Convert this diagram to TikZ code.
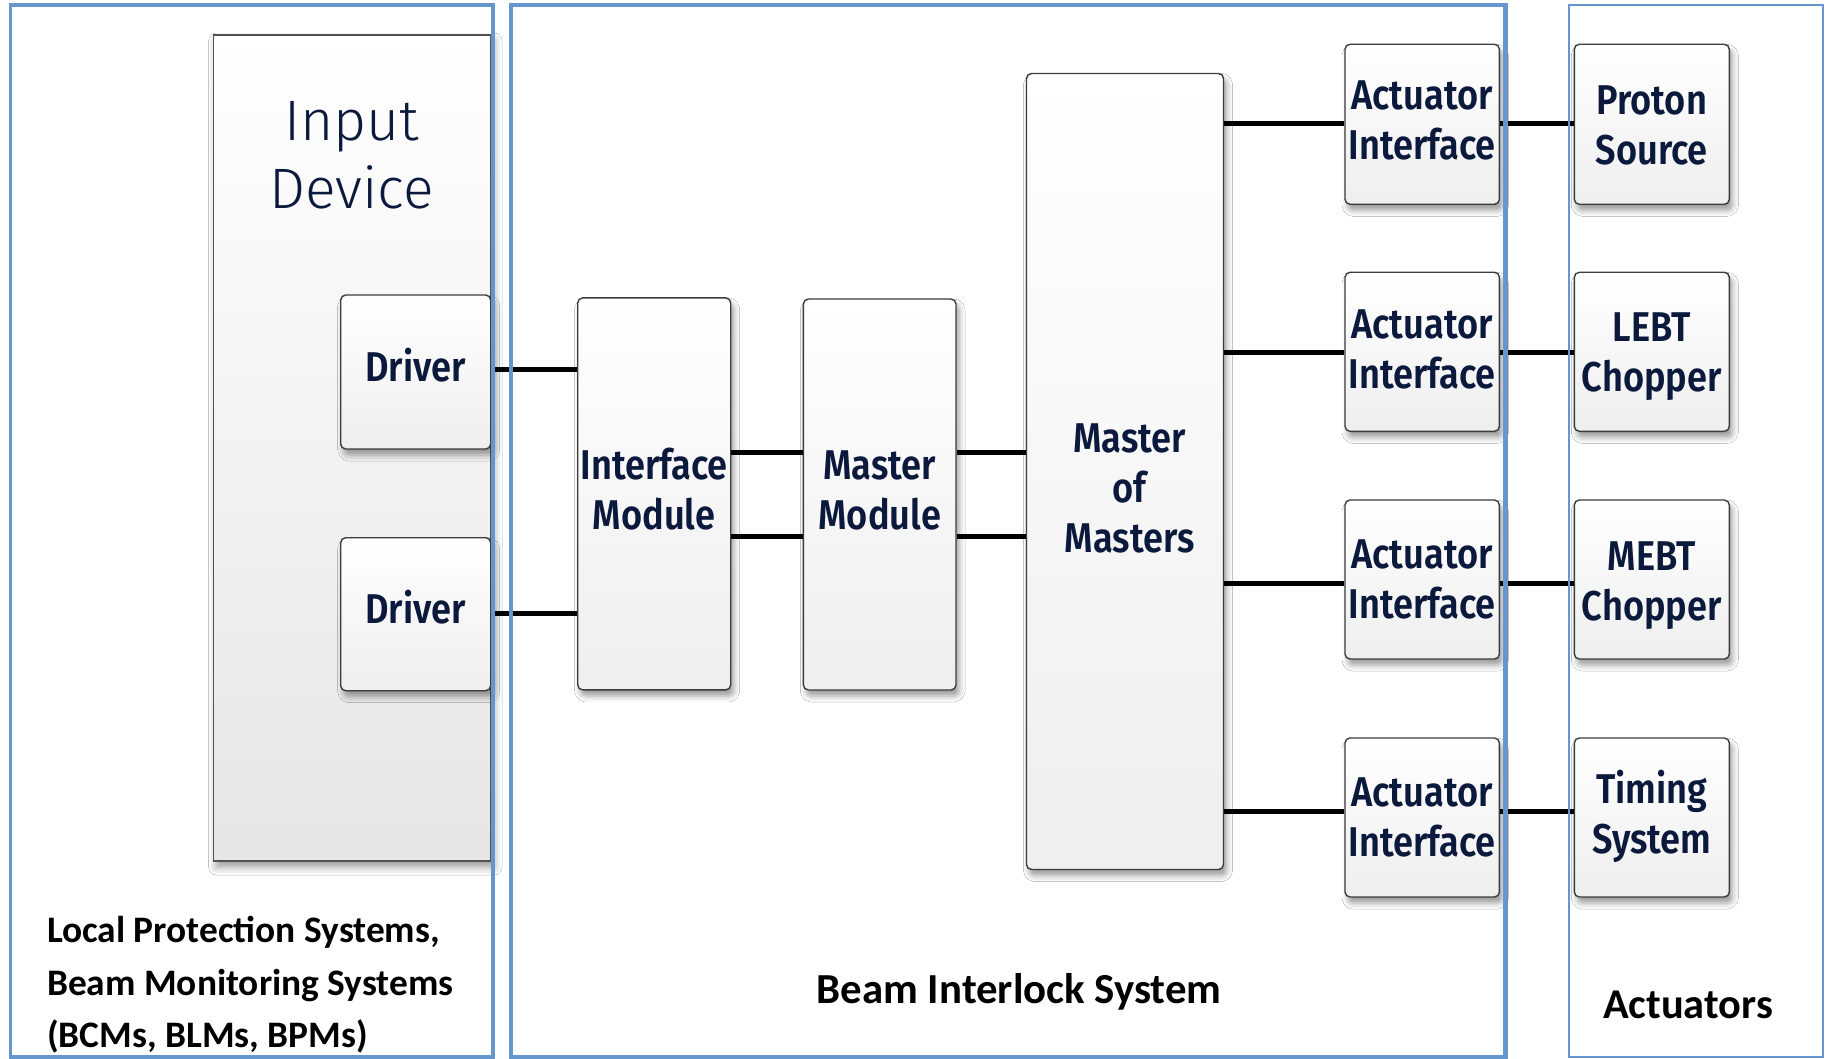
\documentclass[tikz,border=0pt]{standalone}
\usepackage{fontspec}
\usetikzlibrary{shadows.blur}

\newfontfamily\boxfont{Fira Sans SemiBold}[FakeStretch=0.87]
\newfontfamily\thinfont{Fira Sans Light}
\newfontfamily\lblfont{Carlito}[BoldFont={Carlito Bold}]

\definecolor{framec}{RGB}{102,150,206}
\definecolor{navy}{RGB}{10,25,60}
\definecolor{edgec}{RGB}{60,60,60}

\newcommand{\boxtext}{\boxfont\fontsize{20.8}{25}\selectfont}
\newcommand{\thintext}{\thinfont\fontsize{28.5}{33.6}\selectfont}

\begin{document}
\begin{tikzpicture}[x=0.5pt,y=-0.5pt,
  box/.style={draw=edgec, line width=0.7pt, rounded corners=2.5pt,
    top color=white, bottom color=gray!13,
    blur shadow={shadow xshift=1.5pt, shadow yshift=-3pt, shadow blur radius=3pt, shadow opacity=40},
    font=\boxtext, text=navy, align=center, inner sep=0pt, text depth=0pt},
  % distance of the last text baseline below the box centre
  drop/.style={text height=#1},
  bigbox/.style={draw=gray!65!black, line width=0.8pt,
    top color=white, bottom color=gray!20,
    blur shadow={shadow xshift=1.5pt, shadow yshift=-3pt, shadow blur radius=4pt, shadow opacity=40},
    inner sep=0pt},
  stacktext/.style={anchor=base, text=navy, inner sep=0pt},
  wire/.style={line width=2.4pt, black},
  frame/.style={draw=framec},
  section/.style={text=black, inner sep=0pt}
]
\useasboundingbox[fill=white] (0,0) rectangle (1830,1059);

% input device with its drivers
\node[bigbox, minimum width=138.7pt, minimum height=413pt] (inp) at (352.3,448) {};
\node[stacktext, font=\thintext] (inpt) at (351.5,141)
  {\begin{tabular}[t]{@{}c@{}}Input\\Device\end{tabular}};
\node[box, drop=9pt, minimum width=75pt, minimum height=77pt] (drv1) at (415.7,372) {Driver};
\node[box, drop=9pt, minimum width=75pt, minimum height=76.5pt] (drv2) at (415.7,614.2) {Driver};

% interlock modules
\node[box, drop=35.4pt, minimum width=76.5pt, minimum height=196pt] (im) at (654.2,493.9) {Interface\\Module};
\node[box, drop=35pt, minimum width=76.3pt, minimum height=195.5pt] (mm) at (879.7,494.5) {Master\\Module};
\node[box, minimum width=98.5pt, minimum height=398pt] (mom) at (1125,471.5) {};
\node[stacktext, font=\boxtext] (momt) at (1129.7,452.7)
  {\begin{tabular}[t]{@{}c@{}}Master\\of\\Masters\end{tabular}};

% actuator interfaces
\node[box, drop=35.7pt, minimum width=77.2pt, minimum height=80pt] (ai1) at (1422.2,124.3) {Actuator\\Interface};
\node[box, drop=36.5pt, minimum width=77.2pt, minimum height=79.5pt] (ai2) at (1422.2,351.8) {Actuator\\Interface};
\node[box, drop=38.5pt, minimum width=77.2pt, minimum height=79.5pt] (ai3) at (1422.2,579.5) {Actuator\\Interface};
\node[box, drop=39.2pt, minimum width=77.2pt, minimum height=79.5pt] (ai4) at (1422.2,817.5) {Actuator\\Interface};

% actuators
\node[box, drop=40.7pt, minimum width=77.5pt, minimum height=80pt] (act1) at (1651.8,124.3) {Proton\\Source};
\node[box, drop=40pt, minimum width=77.5pt, minimum height=79.5pt] (act2) at (1651.8,351.8) {LEBT\\Chopper};
\node[box, drop=40.5pt, minimum width=77.5pt, minimum height=79.5pt] (act3) at (1651.8,579.5) {MEBT\\Chopper};
\node[box, drop=35.8pt, minimum width=77.5pt, minimum height=79.5pt] (act4) at (1651.8,817.5) {Timing\\System};

% connections
\draw[wire] (drv1.east |- 0,369.3) -- (im.west |- 0,369.3);
\draw[wire] (drv2.east |- 0,613.3) -- (im.west |- 0,613.3);
\draw[wire] (im.east |- 0,452.5) -- (mm.west |- 0,452.5);
\draw[wire] (im.east |- 0,536.8) -- (mm.west |- 0,536.8);
\draw[wire] (mm.east |- 0,452.5) -- (mom.west |- 0,452.5);
\draw[wire] (mm.east |- 0,536.8) -- (mom.west |- 0,536.8);
\draw[wire] (mom.east |- 0,123.7) -- (ai1.west |- 0,123.7);
\draw[wire] (mom.east |- 0,352.5) -- (ai2.west |- 0,352.5);
\draw[wire] (mom.east |- 0,583.5) -- (ai3.west |- 0,583.5);
\draw[wire] (mom.east |- 0,811.5) -- (ai4.west |- 0,811.5);
\draw[wire] (ai1.east |- 0,123.7) -- (act1.west |- 0,123.7);
\draw[wire] (ai2.east |- 0,352.5) -- (act2.west |- 0,352.5);
\draw[wire] (ai3.east |- 0,583.5) -- (act3.west |- 0,583.5);
\draw[wire] (ai4.east |- 0,811.5) -- (act4.west |- 0,811.5);

% system boundaries
\draw[frame, line width=1.6pt] (10.7,5) rectangle (493,1057);
\draw[frame, line width=2.3pt] (511,5) rectangle (1505.6,1057);
\draw[frame, line width=1.2pt] (1569,5) rectangle (1823,1057);

% boundary captions
\node[section, anchor=base west, font=\lblfont\bfseries\fontsize{18.7}{26.2}\selectfont] (lps) at (46.7,942.7)
  {\begin{tabular}[t]{@{}l@{}}Local Protection Systems,\\Beam Monitoring Systems\\(BCMs, BLMs, BPMs)\end{tabular}};
\node[section, anchor=base, font=\lblfont\bfseries\fontsize{21.4}{26}\selectfont] (bis) at (1019.2,1003.3) {Beam Interlock System};
\node[section, anchor=base, font=\lblfont\bfseries\fontsize{21.2}{26}\selectfont] (actl) at (1688,1018) {Actuators};
\end{tikzpicture}
\end{document}
